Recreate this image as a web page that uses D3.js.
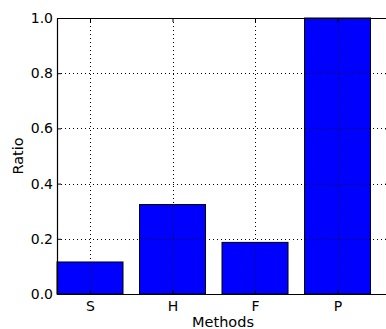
<!DOCTYPE html>
<html>
<head>
<meta charset="utf-8">
<script src="https://cdn.jsdelivr.net/npm/d3@7"></script>
<style>
  body { margin: 0; background: #fff; }
  svg { display: block; font-family: "DejaVu Sans", sans-serif; }
</style>
</head>
<body>
<svg id="chart" width="386" height="329"></svg>
<script>
// chart data
const methods = ["S", "H", "F", "P"];
const ratios = [0.116, 0.324, 0.187, 1.0];
const yTicks = [0.0, 0.2, 0.4, 0.6, 0.8, 1.0];

const margin = { left: 57, top: 18, right: 389, bottom: 294 };
const barW = 0.8;

const svg = d3.select("#chart");

const x = d3.scaleLinear().domain([-0.4, 3.624]).range([margin.left, margin.right]);
const y = d3.scaleLinear().domain([0, 1]).range([margin.bottom, margin.top]);

// bars
svg.selectAll(".bar")
  .data(ratios)
  .enter().append("rect")
  .attr("class", "bar")
  .attr("x", (d, i) => x(i - barW / 2))
  .attr("y", d => y(d))
  .attr("width", (d, i) => x(i + barW / 2) - x(i - barW / 2))
  .attr("height", d => y(0) - y(d))
  .attr("fill", "#0000ff")
  .attr("stroke", "#000")
  .attr("stroke-width", 1);

// grid on top of bars
const grid = svg.append("g").attr("stroke", "#000").attr("stroke-width", 1)
  .attr("stroke-dasharray", "1,3");
grid.selectAll(".vg").data(methods).enter().append("line")
  .attr("x1", (d, i) => Math.round(x(i)) + 0.5).attr("x2", (d, i) => Math.round(x(i)) + 0.5)
  .attr("y1", y(1)).attr("y2", y(0));
grid.selectAll(".hg").data(yTicks).enter().append("line")
  .attr("x1", x.range()[0]).attr("x2", x.range()[1])
  .attr("y1", d => Math.round(y(d)) + 0.5).attr("y2", d => Math.round(y(d)) + 0.5);

// axes (ticks pointing inward like matplotlib)
const xAxisB = d3.axisBottom(x).tickValues(d3.range(methods.length))
  .tickFormat(i => methods[i]).tickSizeInner(-4).tickSizeOuter(0).tickPadding(7);
const xAxisT = d3.axisTop(x).tickValues(d3.range(methods.length))
  .tickFormat("").tickSizeInner(-4).tickSizeOuter(0);
const yAxisL = d3.axisLeft(y).tickValues(yTicks).tickFormat(d3.format(".1f"))
  .tickSizeInner(-4).tickSizeOuter(0).tickPadding(4);
const yAxisR = d3.axisRight(y).tickValues(yTicks).tickFormat("")
  .tickSizeInner(-4).tickSizeOuter(0);

function style(g) {
  g.select(".domain").attr("stroke", "#000").attr("stroke-width", 1.2);
  g.selectAll(".tick line").attr("stroke", "#000").attr("stroke-width", 1);
  g.selectAll(".tick text").attr("fill", "#000").style("font-size", "14px");
  g.attr("font-family", null);
}

svg.append("g").attr("transform", `translate(0,${y(0)})`).call(xAxisB).call(style);
svg.append("g").attr("transform", `translate(0,${y(1)})`).call(xAxisT).call(style);
svg.append("g").attr("transform", `translate(${x.range()[0]},0)`).call(yAxisL).call(style);
svg.append("g").attr("transform", `translate(${x.range()[1]},0)`).call(yAxisR).call(style);

// axis labels
svg.append("text")
  .attr("x", (x.range()[0] + x.range()[1]) / 2)
  .attr("y", 327)
  .attr("text-anchor", "middle")
  .style("font-size", "14.5px")
  .text("Methods");

svg.append("text")
  .attr("transform", `translate(23,${(y(0) + y(1)) / 2}) rotate(-90)`)
  .attr("text-anchor", "middle")
  .style("font-size", "14.5px")
  .text("Ratio");
</script>
</body>
</html>
